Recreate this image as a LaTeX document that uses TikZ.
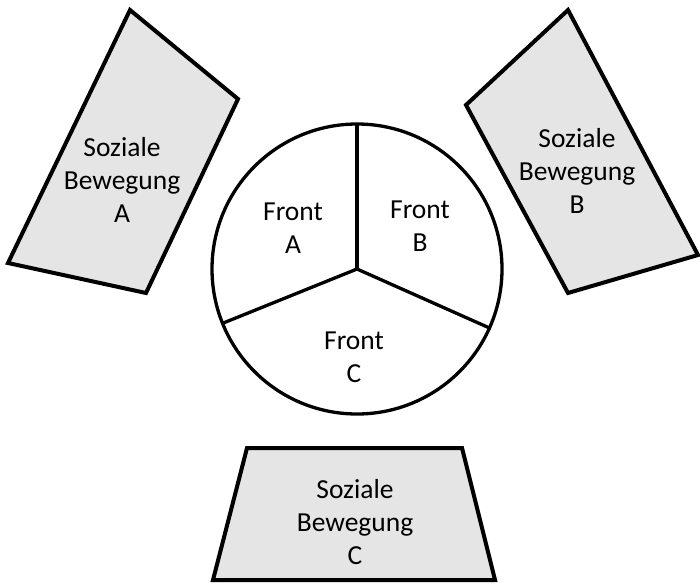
\documentclass[tikz,border=0pt]{standalone}
\usepackage{fontspec}
\setmainfont{Carlito}

\begin{document}
\begin{tikzpicture}[x=1pt,y=-1pt,
  bew/.style={draw,line width=4pt,fill=black!10,line join=miter},
  lbl/.style={align=center,inner sep=0pt,font=\fontsize{27.5}{33}\selectfont}]
\path[use as bounding box] (0,0) rectangle (700,584);

% Bewegungen
\draw[bew] (130,10) -- (238,99) -- (146,293) -- (8,263) -- cycle;
\draw[bew] (568,10) -- (466,105) -- (568,293) -- (698,255) -- cycle;
\draw[bew] (247,448) -- (462,448) -- (495,580) -- (213,580) -- cycle;
\path node[lbl] (sa) at (122,180) {Soziale\\Bewegung\\A};
\path node[lbl] (sb) at (577,171) {Soziale\\Bewegung\\B};
\path node[lbl] (sc) at (355,522) {Soziale\\Bewegung\\C};

% Fronten
\path node[circle,draw,line width=3.3pt,minimum size=290pt,inner sep=0pt,outer sep=0pt] (fr) at (357,269) {};
\draw[line width=3.3pt] (fr.center) -- (fr.90);
\draw[line width=3.3pt] (fr.center) -- (fr.202);
\draw[line width=3.3pt] (fr.center) -- (fr.-24);
\path node[lbl] (fa) at (293,228) {Front\\A};
\path node[lbl] (fb) at (420,226) {Front\\B};
\path node[lbl] (fc) at (354,357) {Front\\C};
\end{tikzpicture}
\end{document}
